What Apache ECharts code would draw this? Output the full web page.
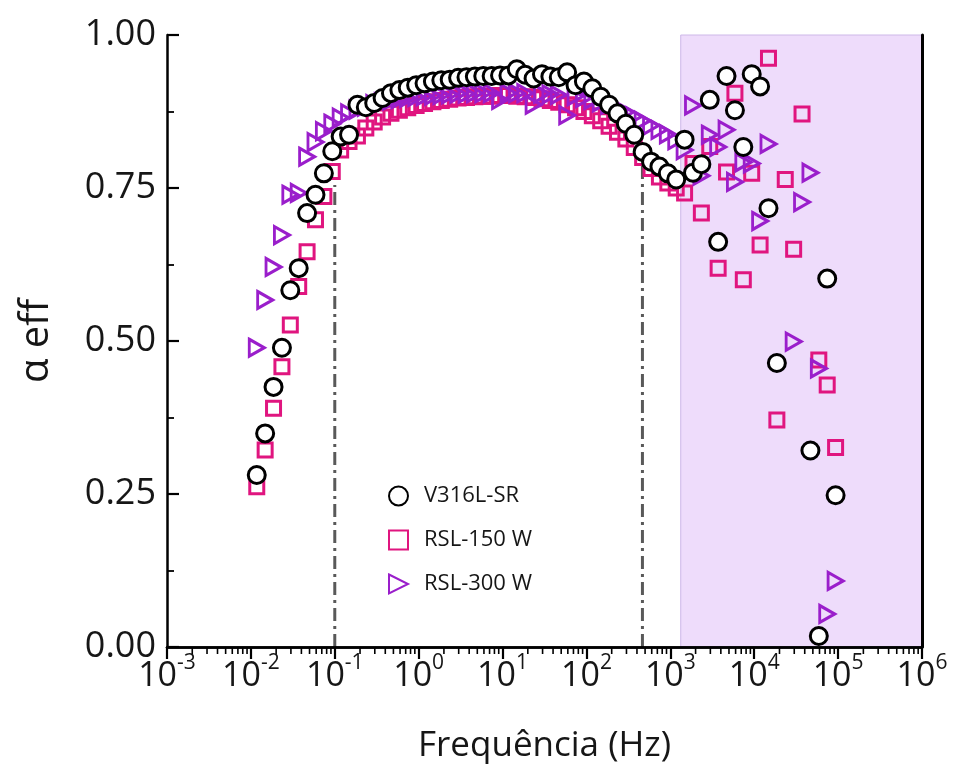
<!DOCTYPE html>
<html>
<head>
<meta charset="utf-8">
<script src="https://cdn.jsdelivr.net/npm/echarts@6/dist/echarts.min.js"></script>
<style>html,body{margin:0;padding:0;background:#fff}#c{width:955px;height:776px}</style>
</head>
<body>
<div id="c"></div>
<script>
const freq = [0.01175,0.01479,0.01862,0.02344,0.02951,0.03715,0.04677,0.05888,0.07413,0.09333,
  0.1175,0.1479,0.1862,0.2344,0.2951,0.3715,0.4677,0.5888,0.7413,0.9333,
  1.175,1.479,1.862,2.344,2.951,3.715,4.677,5.888,7.413,9.333,
  11.75,14.79,18.62,23.44,29.51,37.15,46.77,58.88,74.13,93.33,
  117.5,147.9,186.2,234.4,295.1,371.5,467.7,588.8,741.3,933.3,
  1175,1479,1862,2344,2951,3715,4677,5888,7413,9333,
  11750,14790,18620,23440,29510,37150,46770,58880,74130,93330];
const v316 = [0.281,0.349,0.425,0.489,0.583,0.619,0.709,0.739,0.774,0.810,
  0.834,0.837,0.886,0.882,0.889,0.897,0.905,0.910,0.914,0.918,
  0.921,0.924,0.926,0.927,0.930,0.931,0.932,0.933,0.933,0.934,
  0.934,0.944,0.935,0.929,0.936,0.932,0.931,0.939,0.918,0.924,
  0.913,0.899,0.886,0.872,0.855,0.837,0.809,0.793,0.785,0.774,
  0.764,0.829,0.775,0.789,0.894,0.662,0.933,0.877,0.817,0.936,
  0.916,0.717,0.464,null,null,null,0.321,0.018,0.602,0.248];
const rsl150 = [0.262,0.322,0.390,0.458,0.526,0.589,0.646,0.698,0.736,0.777,
  0.812,0.826,0.835,0.848,0.858,0.866,0.872,0.877,0.881,0.885,
  0.888,0.891,0.893,0.895,0.897,0.898,0.899,0.900,0.900,0.901,
  0.901,0.900,0.899,0.898,0.896,0.893,0.890,0.886,0.881,0.875,
  0.868,0.860,0.851,0.841,0.830,0.816,0.800,0.782,0.768,0.758,
  0.750,0.742,0.790,0.709,0.818,0.619,0.776,0.905,0.600,0.774,
  0.657,0.962,0.371,0.764,0.650,0.871,null,0.469,0.428,0.326];
const rsl300 = [0.489,0.567,0.621,0.673,0.739,0.742,0.801,0.825,0.843,0.855,
  0.865,0.872,0.878,0.883,0.887,0.890,0.893,0.895,0.897,0.899,
  0.900,0.901,0.902,0.903,0.904,0.904,0.905,0.905,0.905,0.894,
  0.905,0.905,0.905,0.886,0.904,0.903,0.902,0.869,0.900,0.897,
  0.894,0.890,0.886,0.880,0.874,0.867,0.860,0.852,0.845,0.838,
  0.828,0.812,0.885,0.770,0.837,0.817,0.845,0.760,0.792,0.790,
  0.696,0.822,null,null,0.499,0.727,0.775,0.455,0.054,0.108];
const seriesNames = ['V316L-SR','RSL-150 W','RSL-300 W'];
const yTickLabels = ['0.00','0.25','0.50','0.75','1.00'];
const shadeRange = [1330, 1e6];
const refLineX = [0.1, 465];
const refLineTop = [0.755, 0.82];

function pairs(vals){ const out=[]; vals.forEach((v,i)=>{ if(v!==null) out.push([freq[i], v]); }); return out; }
const minorTicks = [];
for (let e=-3; e<6; e++) for (let m=2; m<10; m++) minorTicks.push(m*Math.pow(10,e));

const FONT = 'Open Sans';
const TXT = '#161616';
const triPath = 'path://M0,0 L10,5 L0,10 Z';
const legendText = {fontSize:22, color:TXT, fontFamily:FONT, padding:[0,0,0,11]};
const refSeries = refLineX.map((x,i)=>({
  type:'line', name:'_ref'+i, z:2, silent:true, symbol:'none', animation:false,
  data:[[x,0],[x,refLineTop[i]]],
  lineStyle:{color:'#595959', width:3, type:[13,5,3,5]},
  emphasis:{disabled:true}
}));
const chart = echarts.init(document.getElementById('c'));
chart.setOption({
  animation:false,
  textStyle:{fontFamily:FONT},
  grid:{left:167,right:33,top:35,bottom:129},
  legend:{
    orient:'vertical', left:383, top:480, itemGap:22, itemWidth:19, itemHeight:19,
    textStyle:legendText,
    data:seriesNames.map(n=>({name:n, textStyle:legendText}))
  },
  xAxis:[{
    type:'log', min:1e-3, max:1e6, logBase:10, z:10,
    name:'Frequência (Hz)', nameLocation:'middle', nameGap:82,
    nameTextStyle:{fontSize:35, color:TXT, fontFamily:FONT},
    axisLine:{lineStyle:{color:'#000', width:2.5}},
    axisTick:{show:true, inside:false, length:12, lineStyle:{width:2.2, color:'#000'}},
    splitLine:{show:false},
    axisLabel:{margin:6, color:TXT,
      formatter:function(v){ const e=Math.round(Math.log10(v)); return '{b|10}{s|'+e+'}'; },
      rich:{b:{fontSize:34, fontFamily:FONT, color:TXT, lineHeight:40, verticalAlign:'bottom'},
            s:{fontSize:21, fontFamily:FONT, color:TXT, verticalAlign:'top', lineHeight:40, padding:[0,0,16,0]}}}
  },{
    type:'log', min:1e-3, max:1e6, position:'top', z:10,
    axisLine:{lineStyle:{color:'#000', width:2.5}}, axisTick:{show:false}, axisLabel:{show:false}, splitLine:{show:false}
  }],
  yAxis:[{
    type:'value', min:0, max:1, interval:0.25, z:10,
    name:'α eff', nameLocation:'middle', nameGap:110, nameRotate:90,
    nameTextStyle:{fontSize:40, color:TXT, fontFamily:FONT},
    axisLine:{show:true, lineStyle:{color:'#000', width:2.5}},
    axisTick:{show:true, inside:true, length:12, lineStyle:{width:2.2, color:'#000'}},
    minorTick:{show:true, splitNumber:2, length:7, lineStyle:{width:1.8, color:'#000'}},
    splitLine:{show:false},
    axisLabel:{margin:11, fontSize:36, color:TXT, fontFamily:FONT,
      formatter:function(v){ return yTickLabels[Math.round(v/0.25)]; }}
  },{
    type:'value', min:0, max:1, position:'right', z:10,
    axisLine:{show:true, lineStyle:{color:'#000', width:3}}, axisTick:{show:false}, axisLabel:{show:false}, splitLine:{show:false}
  }],
  series:[
    {
      type:'line', name:'_bg', data:[], z:1, silent:true,
      markArea:{silent:true, itemStyle:{color:'#eedcfb', opacity:1, borderColor:'#cdb8e8', borderWidth:1},
        data:[[{xAxis:shadeRange[0]},{xAxis:shadeRange[1]}]]}
    },
    ...refSeries,
    {
      type:'custom', name:'_minor', silent:true, z:10, clip:false,
      data:minorTicks.map(f=>[f,0]),
      encode:{x:0, y:1},
      renderItem:function(params, api){
        const p = api.coord([api.value(0), 0]);
        return {type:'line', shape:{x1:p[0], y1:p[1]+1, x2:p[0], y2:p[1]+7}, style:{stroke:'#000', lineWidth:1.6}};
      }
    },
    {
      type:'scatter', name:seriesNames[1], data:pairs(rsl150), z:3,
      symbol:'rect', symbolSize:14,
      itemStyle:{color:'rgba(255,255,255,0)', borderColor:'#e0157f', borderWidth:3, opacity:1}
    },
    {
      type:'scatter', name:seriesNames[2], data:pairs(rsl300), z:4,
      symbol:triPath, symbolSize:[15,17],
      itemStyle:{color:'rgba(255,255,255,0)', borderColor:'#9a1ecb', borderWidth:3, opacity:1}
    },
    {
      type:'scatter', name:seriesNames[0], data:pairs(v316), z:5,
      symbol:'circle', symbolSize:17,
      itemStyle:{color:'#fff', borderColor:'#000', borderWidth:3, opacity:1}
    }
  ]
});
</script>
</body>
</html>
